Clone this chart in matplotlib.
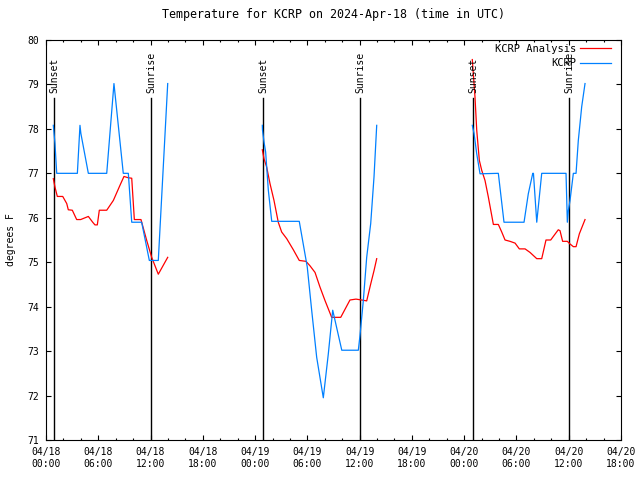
import matplotlib
matplotlib.use("Agg")
import matplotlib.pyplot as plt
from matplotlib.ticker import MultipleLocator

plt.rcParams['font.family'] = ['DejaVu Sans Mono']
plt.rcParams['font.size'] = 7

# hours since 04/18 00:00 UTC
tick_labels = ["04/18\n00:00", "04/18\n06:00", "04/18\n12:00", "04/18\n18:00",
               "04/19\n00:00", "04/19\n06:00", "04/19\n12:00", "04/19\n18:00",
               "04/20\n00:00", "04/20\n06:00", "04/20\n12:00", "04/20\n18:00"]
sunset_h = [0.95, 24.9, 49.0]
sunrise_h = [12.1, 36.04, 60.06]

ana_t1 = [0.84, 1.03, 1.3, 1.92, 2.38, 2.56, 3.02, 3.52, 3.98, 4.86, 5.36, 5.62, 5.89,
          6.12, 6.97, 7.73, 8.49, 8.95, 9.45, 9.84, 10.14, 10.9, 11.56, 12.13, 12.89, 13.97]
ana_v1 = [76.88, 76.69, 76.48, 76.48, 76.32, 76.18, 76.17, 75.96, 75.96, 76.03, 75.9, 75.84, 75.84,
          76.17, 76.17, 76.39, 76.73, 76.93, 76.9, 76.89, 75.96, 75.96, 75.49, 75.11, 74.73, 75.11]
ana_t2 = [24.83, 25.02, 25.33, 25.71, 26.17, 26.66, 27.05, 27.63, 28.39, 29.07, 29.84, 30.3,
          30.88, 31.45, 32.02, 32.79, 33.83, 34.89, 35.58, 36.23, 36.81, 37.27, 37.65, 37.96]
ana_v2 = [77.53, 77.33, 77.14, 76.77, 76.39, 75.9, 75.68, 75.53, 75.28, 75.04, 75.02, 74.92,
          74.77, 74.44, 74.14, 73.76, 73.76, 74.15, 74.17, 74.15, 74.13, 74.51, 74.81, 75.08]
ana_t3 = [48.93, 49.24, 49.44, 49.74, 50.01, 50.39, 50.77, 51.35, 51.92, 52.31, 52.69, 53.26,
          53.84, 54.33, 54.99, 55.56, 56.33, 56.9, 57.39, 57.93, 58.8, 59.0, 59.3, 59.84, 60.15,
          60.53, 60.84, 61.22, 61.87]
ana_v3 = [79.56, 78.72, 77.97, 77.29, 77.07, 76.84, 76.47, 75.85, 75.85, 75.68, 75.5, 75.47,
          75.43, 75.3, 75.3, 75.22, 75.08, 75.08, 75.5, 75.5, 75.73, 75.71, 75.47, 75.47, 75.41,
          75.35, 75.35, 75.64, 75.96]

obs_t1 = [0.84, 1.03, 1.23, 3.6, 3.9, 4.0, 4.86, 6.97, 7.8, 8.87, 9.45, 9.84, 10.98, 11.86, 12.89, 13.97]
obs_v1 = [78.08, 77.67, 77.0, 77.0, 78.08, 77.9, 77.0, 77.0, 79.02, 77.0, 77.0, 75.9, 75.9, 75.04, 75.04, 79.02]
obs_t2 = [24.83, 24.85, 25.02, 25.21, 25.52, 25.91, 29.07, 29.99, 30.5, 31.07, 31.83, 32.4,
          32.91, 33.95, 35.85, 36.04, 36.42, 36.81, 37.27, 37.65, 37.96]
obs_v2 = [78.08, 77.97, 77.71, 77.48, 76.62, 75.92, 75.92, 74.89, 73.91, 72.86, 71.95, 72.93,
          73.92, 73.02, 73.02, 73.35, 74.13, 75.11, 75.87, 76.92, 78.08]
obs_t3 = [48.93, 49.13, 49.44, 49.82, 51.92, 52.57, 54.87, 55.36, 55.87, 55.95, 56.33, 56.9,
          59.69, 59.84, 59.96, 60.15, 60.53, 60.84, 61.1, 61.49, 61.87]
obs_v3 = [78.08, 77.9, 77.44, 76.99, 77.0, 75.9, 75.9, 76.54, 77.0, 77.0, 75.9, 77.0,
          77.0, 75.9, 76.17, 76.39, 77.0, 77.0, 77.74, 78.5, 79.02]

red = "#ff0000"
blue = "#0080ff"

fig = plt.figure(figsize=(6.4, 4.8), dpi=100)
ax = fig.add_axes([46/640, 40/480, 575/640, 400/480])

for h in sunset_h:
    ax.plot([h, h], [71, 78.7], color="black", lw=1)
    ax.text(h, 78.8, "Sunset", rotation=90, ha="center", va="bottom")
for h in sunrise_h:
    ax.plot([h, h], [71, 78.7], color="black", lw=1)
    ax.text(h, 78.8, "Sunrise", rotation=90, ha="center", va="bottom")

ax.plot(ana_t1, ana_v1, color=red, lw=0.9, label="KCRP Analysis")
ax.plot(ana_t2, ana_v2, color=red, lw=0.9)
ax.plot(ana_t3, ana_v3, color=red, lw=0.9)
ax.plot(obs_t1, obs_v1, color=blue, lw=0.9, label="KCRP")
ax.plot(obs_t2, obs_v2, color=blue, lw=0.9)
ax.plot(obs_t3, obs_v3, color=blue, lw=0.9)

ax.set_xlim(0, 66)
ax.set_ylim(71, 80)
ax.set_xticks(range(0, 67, 6))
ax.set_xticklabels(tick_labels)
ax.xaxis.set_minor_locator(MultipleLocator(2))
ax.set_yticks(range(71, 81))
ax.tick_params(which="both", direction="in", top=True, right=True, width=0.8)
ax.tick_params(which="major", length=3.3, pad=5)
ax.tick_params(which="minor", length=1.6)
for s in ax.spines.values():
    s.set_linewidth(0.8)

ax.set_ylabel("degrees F", labelpad=8)
ax.set_title("Temperature for KCRP on 2024-Apr-18 (time in UTC)", pad=16)
ax.legend(loc="upper right", bbox_to_anchor=(1.0, 1.016), frameon=False,
          markerfirst=False, fontsize=7.5, handlelength=2.9, handletextpad=0.35,
          labelspacing=0.4, borderaxespad=0.6, borderpad=0.4)

fig.savefig("out.png", dpi=100)
